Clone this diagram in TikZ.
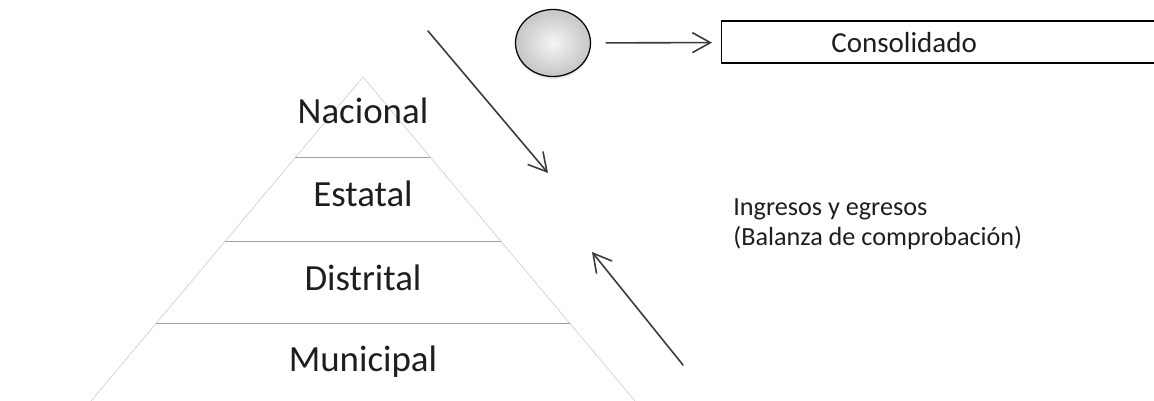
\documentclass[tikz,border=0pt]{standalone}
\usepackage{fontspec}
\setmainfont{Carlito}
\usepackage{tikz}
\usetikzlibrary{arrows.meta,positioning,calc,shapes.geometric,shadows}
\definecolor{ink}{HTML}{1E1E1E}
\definecolor{arrowgray}{HTML}{3A3A3A}
\definecolor{faint}{HTML}{D2D2D2}
\definecolor{softline}{HTML}{A0A0A0}
\tikzset{
    every picture/.style={line cap=round,line join=round},
    levellabel/.style={font=\fontsize{21}{25}\selectfont,text=ink,anchor=base,inner sep=0pt},
    sourceball/.style={ellipse,draw=black,line width=0.7pt,
      minimum width=15mm,minimum height=13.4mm,inner sep=0pt,
      inner color=gray!8,outer color=gray!45,
      drop shadow={opacity=0.2,shadow xshift=0pt,shadow yshift=-0.5mm}},
    resultbox/.style={draw=black,line width=0.7pt,minimum height=8.4mm,
      minimum width=100mm,inner sep=0pt},
    boxtext/.style={font=\fontsize{16.5}{19}\selectfont,text=ink,inner sep=0pt},
    flowarrow/.style={-{Straight Barb[length=3.6mm,width=4mm]},draw=arrowgray,
      line width=0.9pt},
    notetext/.style={font=\fontsize{14.9}{17.2}\selectfont,text=ink,align=left,
      inner sep=0pt},
    layerline/.style={draw=softline,line width=0.4pt},
    pyramidedge/.style={draw=faint,line width=0.4pt}
}

\begin{document}
\begin{tikzpicture}[x=0.2mm,y=-0.2mm]
  \path[use as bounding box] (0,0) rectangle (1154,401);
  \begin{scope}
  \clip (-5,-5) rectangle (1154,406);
  % pyramid
  \coordinate (apex) at (363,77);
  \draw[pyramidedge] (91,401) -- (apex) -- (635,401);
  \foreach \y in {157,241,323}{
    \pgfmathsetmacro\hw{0.84*(\y-77)}
    \draw[layerline] (363-\hw,\y) -- (363+\hw,\y);
  }
  \node[levellabel] (nac) at (363,124) {Nacional};
  \node[levellabel] (est) at (363,207) {Estatal};
  \node[levellabel] (dis) at (363,291) {Distrital};
  \node[levellabel] (mun) at (363,372) {Municipal};
  % top row
  \node[sourceball] (ball) at (553,43) {};
  \node[resultbox,anchor=west] (cons) at (721,42) {};
  \node[boxtext,anchor=base west] (constext) at (831,53) {Consolidado};
  \draw[flowarrow,shorten <=3mm,shorten >=1.8mm] (ball) -- (cons);
  % flows
  \coordinate (downstart) at (428,31);
  \coordinate (downend) at (548,173);
  \draw[flowarrow] (downstart) -- (downend);
  \coordinate (upstart) at (683,365);
  \coordinate (upend) at (592,252);
  \draw[flowarrow] (upstart) -- (upend);
  \node[notetext,anchor=north west] (note) at (733,198)
    {Ingresos y egresos\\(Balanza de comprobación)};
  \end{scope}
\end{tikzpicture}
\end{document}
